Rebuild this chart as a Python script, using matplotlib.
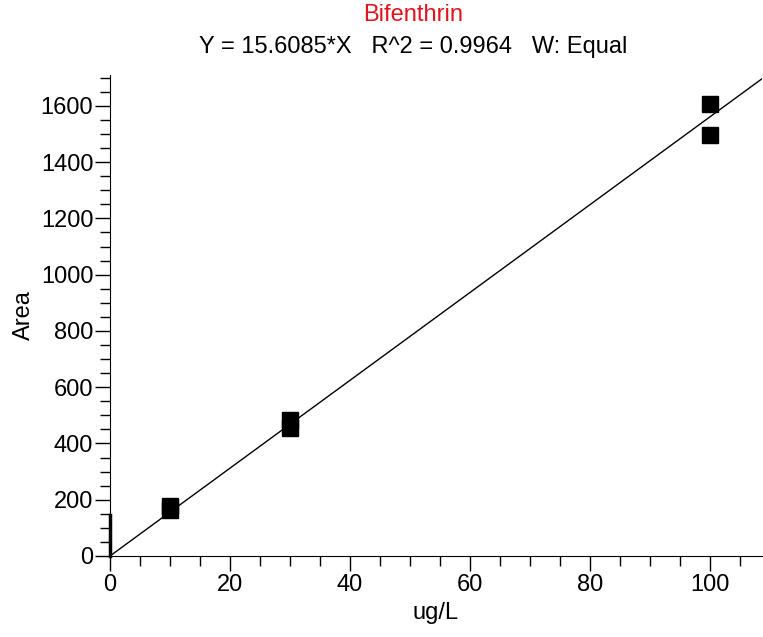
import numpy as np
import matplotlib.pyplot as plt
from matplotlib.ticker import MultipleLocator

plt.rcParams['font.family'] = ['Liberation Sans', 'DejaVu Sans']

# Datos de calibracion
conc = [10, 10, 30, 30, 100, 100]
area = [178, 165, 482, 455, 1607, 1495]
pendiente = 15.6085
r2 = 0.9964

x_max = 108.7
y_max = 1710

fig = plt.figure(figsize=(7.63, 6.37), dpi=100)
ax = fig.add_axes([0.1442, 0.1272, 0.8545, 0.7551])

# recta de ajuste
xl = np.linspace(0, x_max, 200)
ax.plot(xl, pendiente * xl, color='black', lw=1)

# puntos
ax.plot(conc, area, 's', color='black', ms=11, clip_on=False)

# marca en el origen
ax.plot([0, 0], [0, 145], color='black', lw=2.5, clip_on=False)

ax.set_xlim(0, x_max)
ax.set_ylim(0, y_max)
ax.xaxis.set_major_locator(MultipleLocator(20))
ax.xaxis.set_minor_locator(MultipleLocator(5))
ax.yaxis.set_major_locator(MultipleLocator(200))
ax.yaxis.set_minor_locator(MultipleLocator(50))
ax.tick_params(which='major', direction='out', length=11, width=1, labelsize=17)
ax.tick_params(which='minor', direction='out', length=7, width=1)
ax.tick_params(axis='x', pad=2)
ax.tick_params(axis='y', pad=1)

for s in ['top', 'right']:
    ax.spines[s].set_visible(False)

ax.set_xlabel('ug/L', fontsize=17, labelpad=4)
ax.set_ylabel('Area', fontsize=17, labelpad=4)

fig.text(0.541, 0.977, 'Bifenthrin', color='#e0141e', fontsize=17,
         ha='center', va='center')
fig.text(0.541, 0.927, 'Y = %.4f*X   R^2 = %.4f   W: Equal' % (pendiente, r2),
         fontsize=17, ha='center', va='center')

fig.savefig('out.png', dpi=100)
